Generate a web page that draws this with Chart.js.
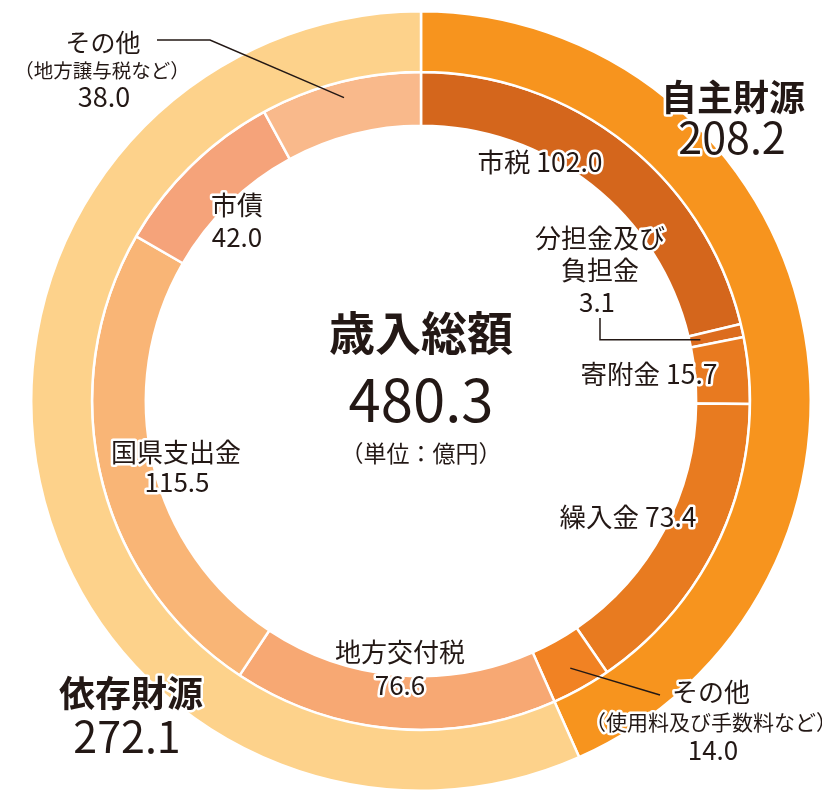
<!DOCTYPE html>
<html lang="ja">
<head>
<meta charset="utf-8">
<script src="https://cdn.jsdelivr.net/npm/chart.js@4.4.1/dist/chart.umd.min.js"></script>
<style>
  html,body{margin:0;padding:0;background:#fff;}
  #wrap{position:relative;width:822px;height:794px;}
</style>
</head>
<body>
<div id="wrap"><canvas id="revenue"></canvas></div>
<script>
// ── 歳入総額 480.3億円 ─────────────────────────────
const groupLabels = ['自主財源', '依存財源'];
const groupValues = [208.2, 272.1];
const groupColors = ['#F7941E', '#FDD28B'];

const itemLabels = ['市税', '分担金及び負担金', '寄附金', '繰入金', 'その他', '地方交付税', '国県支出金', '市債', 'その他'];
const itemValues = [102.0, 3.1, 15.7, 73.4, 14.0, 76.6, 115.5, 42.0, 38.0];
const itemColors = ['#D4661C', '#DC6C1E', '#E87A20', '#E87B20', '#F18223', '#F7A873', '#F9B576', '#F5A37A', '#F9B98B'];

const total = 480.3;

const ink = '#231815';
const jp = "'Noto Sans CJK JP', 'Noto Sans', sans-serif";

// text labels: [text, x, y, size, bold]
const texts = [
  ['その他', 103, 42, 25],
  ['（地方譲与税など）', 102, 71, 19.5],
  ['38.0', 104, 97, 27],
  ['市債', 237, 205, 26],
  ['42.0', 237, 237, 26],
  ['自主財源', 733, 97, 36, true],
  ['208.2', 732, 138, 43],
  ['市税 ' + itemValues[0].toFixed(1), 540, 162, 26.5],
  ['分担金及び', 600, 238, 26],
  ['負担金', 600, 270, 26],
  [itemValues[1].toFixed(1), 597, 302, 26],
  ['寄附金 ' + itemValues[2].toFixed(1), 649, 374, 26.5],
  ['歳入総額', 421, 333, 46, true],
  [total.toFixed(1), 421, 400, 58],
  ['（単位：億円）', 421, 453, 23],
  ['国県支出金', 176, 452, 26],
  [itemValues[6].toFixed(1), 177, 482, 26],
  ['繰入金 ' + itemValues[3].toFixed(1), 628, 517, 26.5],
  ['地方交付税', 400, 652, 26],
  [itemValues[5].toFixed(1), 400, 685, 26],
  ['依存財源', 131, 693, 36, true],
  [groupValues[1].toFixed(1), 127, 737, 43],
  ['その他', 711, 692, 26],
  ['（使用料及び手数料など）', 711, 722, 21],
  [itemValues[4].toFixed(1), 713, 750, 26],
];

// point inside an arc at its mid angle, distance r from centre
function arcPoint(chart, idx, r) {
  const a = chart.getDatasetMeta(1).data[idx];
  const mid = (a.startAngle + a.endAngle) / 2;
  return [a.x + r * Math.cos(mid), a.y + r * Math.sin(mid)];
}

const labelPlugin = {
  id: 'labels',
  afterDraw(chart) {
    const ctx = chart.ctx;
    ctx.save();

    // leader lines
    ctx.strokeStyle = ink;
    ctx.lineWidth = 1.5;
    let p = arcPoint(chart, 8, 313);
    ctx.beginPath(); ctx.moveTo(157, 40); ctx.lineTo(210, 40); ctx.lineTo(p[0], p[1]); ctx.stroke();
    p = arcPoint(chart, 1, 286);
    ctx.beginPath(); ctx.moveTo(600, 318); ctx.lineTo(600, p[1]); ctx.lineTo(p[0], p[1]); ctx.stroke();
    p = arcPoint(chart, 4, 306);
    ctx.beginPath(); ctx.moveTo(p[0], p[1]); ctx.lineTo(660, 695); ctx.stroke();

    // texts with white halo
    ctx.textAlign = 'center';
    ctx.textBaseline = 'middle';
    ctx.lineJoin = 'round';
    texts.forEach(t => {
      ctx.font = (t[4] ? 'bold ' : '') + t[3] + 'px ' + jp;
      ctx.strokeStyle = '#fff';
      ctx.lineWidth = 5;
      ctx.strokeText(t[0], t[1], t[2]);
      ctx.fillStyle = ink;
      ctx.fillText(t[0], t[1], t[2]);
    });
    ctx.restore();
  }
};

new Chart(document.getElementById('revenue'), {
  type: 'doughnut',
  data: {
    labels: itemLabels,
    datasets: [
      {label: '区分', data: groupValues, backgroundColor: groupColors, borderColor: '#fff', borderWidth: 2.5, weight: 61},
      {label: '内訳', data: itemValues, backgroundColor: itemColors, borderColor: '#fff', borderWidth: 2.5, weight: 54},
    ]
  },
  options: {
    responsive: true, maintainAspectRatio: false, animation: false,
    cutout: '70.6%',
    layout: {padding: {left: 30, right: 10, top: 10, bottom: 2}},
    plugins: {legend: {display: false}, tooltip: {enabled: false}}
  },
  plugins: [labelPlugin]
});
</script>
</body>
</html>
